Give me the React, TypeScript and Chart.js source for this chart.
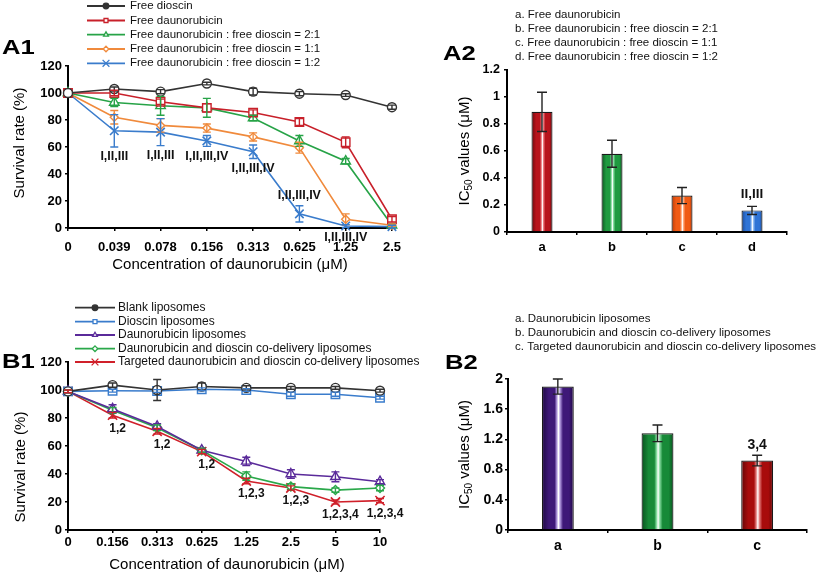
import React, { useEffect, useRef } from 'react';
import { Chart, registerables } from 'chart.js';

Chart.register(...registerables);

const FONT = '"Liberation Sans", Arial, Helvetica, sans-serif';

// ---------------- A1 data ----------------
const a1Concentrations = ['0', '0.039', '0.078', '0.156', '0.313', '0.625', '1.25', '2.5'];
const a1Names = [
  'Free dioscin',
  'Free daunorubicin',
  'Free daunorubicin : free dioscin = 2:1',
  'Free daunorubicin : free dioscin = 1:1',
  'Free daunorubicin : free dioscin = 1:2',
];
const a1FreeDioscin = [100, 103, 101, 107, 101, 99.5, 98.5, 89.5];
const a1FreeDioscinErr = [0, 1.5, 1.5, 1, 2.5, 1.5, 1, 1.5];
const a1FreeDauno = [100, 100, 93.5, 89, 85.5, 78.5, 63.5, 6.5];
const a1FreeDaunoErr = [0, 2, 2, 3, 2, 2.5, 4, 2];
const a1Ratio21 = [100, 93, 90.5, 89, 81.5, 64.5, 49.5, 2];
const a1Ratio21Err = [0, 3, 7, 7, 2, 4, 2, 1];
const a1Ratio11 = [100, 82, 76, 74, 67.5, 59.5, 6.5, 2];
const a1Ratio11Err = [0, 5, 5, 3, 3, 4, 4, 1];
const a1Ratio12 = [100, 72, 71, 64.5, 56.5, 10.5, 1.5, 1];
const a1Ratio12Err = [0, 12, 10, 4, 5, 6, 1, 1];
const a1Significance = ['', 'I,II,III', 'I,II,III', 'I,II,III,IV', 'I,II,III,IV', 'I,II,III,IV', 'I,II,III,IV', ''];

// ---------------- A2 data ----------------
const a2Groups = ['a', 'b', 'c', 'd'];
const a2Ic50 = [0.89, 0.58, 0.27, 0.16];
const a2Ic50Err = [0.145, 0.1, 0.06, 0.03];
const a2Significance = ['', '', '', 'II,III'];
const a2Legend = [
  'a. Free daunorubicin',
  'b. Free daunorubicin : free dioscin = 2:1',
  'c. Free daunorubicin : free dioscin = 1:1',
  'd. Free daunorubicin : free dioscin = 1:2',
];

// ---------------- B1 data ----------------
const b1Concentrations = ['0', '0.156', '0.313', '0.625', '1.25', '2.5', '5', '10'];
const b1Names = [
  'Blank liposomes',
  'Dioscin liposomes',
  'Daunorubicin liposomes',
  'Daunorubicin and dioscin co-delivery liposomes',
  'Targeted daunorubicin and dioscin co-delivery liposomes',
];
const b1Blank = [99, 103.5, 100, 102.5, 101.5, 101.5, 101.5, 99.5];
const b1BlankErr = [1, 1.5, 7.5, 2.5, 1.5, 1, 1, 1];
const b1Dioscin = [99, 99.5, 99.3, 100.5, 100, 97, 97, 94.5];
const b1DioscinErr = [1, 1, 1, 1, 1, 1.5, 1.5, 1];
const b1Dauno = [99, 86.5, 74, 57, 49, 40, 38, 34.5];
const b1DaunoErr = [1, 3, 2, 1.5, 3, 3, 3.5, 1.5];
const b1CoDelivery = [99, 85.5, 73, 57, 38.5, 31, 28.5, 30];
const b1CoDeliveryErr = [1, 2, 2, 1.5, 3, 2, 1.5, 2];
const b1Targeted = [99, 82, 70.5, 56, 35, 30, 20, 21];
const b1TargetedErr = [1, 2, 2, 1.5, 2, 1.5, 1.5, 1.5];
const b1Significance = ['', '1,2', '1,2', '1,2', '1,2,3', '1,2,3', '1,2,3,4', '1,2,3,4'];

// ---------------- B2 data ----------------
const b2Groups = ['a', 'b', 'c'];
const b2Ic50 = [1.9, 1.28, 0.92];
const b2Ic50Err = [0.1, 0.11, 0.07];
const b2Significance = ['', '', '3,4'];
const b2Legend = [
  'a. Daunorubicin liposomes',
  'b. Daunorubicin and dioscin co-delivery liposomes',
  'c. Targeted daunorubicin and dioscin co-delivery liposomes',
];

// ---------------- helpers ----------------
type Part = { t: string; sub?: boolean };

function drawMarker(
  ctx: CanvasRenderingContext2D, style: string, x: number, y: number, r: number,
  fill: string, stroke: string, lw: number,
) {
  ctx.save();
  ctx.lineWidth = lw;
  ctx.strokeStyle = stroke;
  ctx.fillStyle = fill;
  ctx.beginPath();
  if (style === 'circle') {
    ctx.arc(x, y, r, 0, Math.PI * 2);
    ctx.fill();
    ctx.stroke();
  } else if (style === 'rect') {
    const s = r * Math.SQRT1_2;
    ctx.rect(x - s, y - s, 2 * s, 2 * s);
    ctx.fill();
    ctx.stroke();
  } else if (style === 'triangle') {
    ctx.moveTo(x, y - r);
    ctx.lineTo(x + r * 0.866, y + r * 0.5);
    ctx.lineTo(x - r * 0.866, y + r * 0.5);
    ctx.closePath();
    ctx.fill();
    ctx.stroke();
  } else if (style === 'rectRot') {
    ctx.moveTo(x, y - r);
    ctx.lineTo(x + r, y);
    ctx.lineTo(x, y + r);
    ctx.lineTo(x - r, y);
    ctx.closePath();
    ctx.fill();
    ctx.stroke();
  } else if (style === 'crossRot') {
    const s = r * Math.SQRT1_2;
    ctx.moveTo(x - s, y - s);
    ctx.lineTo(x + s, y + s);
    ctx.moveTo(x + s, y - s);
    ctx.lineTo(x - s, y + s);
    ctx.stroke();
  }
  ctx.restore();
}

function drawParts(ctx: CanvasRenderingContext2D, parts: Part[], x: number, y: number, size: number, rotate: boolean) {
  ctx.save();
  ctx.translate(x, y);
  if (rotate) ctx.rotate(-Math.PI / 2);
  ctx.fillStyle = '#000';
  ctx.textBaseline = 'middle';
  ctx.textAlign = 'left';
  const fonts = parts.map((p) => `${p.sub ? Math.round(size * 0.68) : size}px ${FONT}`);
  let total = 0;
  const ws = parts.map((p, i) => {
    ctx.font = fonts[i];
    const w = ctx.measureText(p.t).width;
    total += w;
    return w;
  });
  let cx = -total / 2;
  parts.forEach((p, i) => {
    ctx.font = fonts[i];
    ctx.fillText(p.t, cx, p.sub ? size * 0.3 : 0);
    cx += ws[i];
  });
  ctx.restore();
}

type DecorCfg = {
  panel: { text: string; x: number; y: number };
  lineLegend?: { x1: number; x2: number; tx: number; ys: number[]; size: number; r: number };
  textLegend?: { lines: string[]; x: number; ys: number[]; size: number };
  errors?: { sets: number[][]; color?: string; cap: number };
  notes?: { ds: number; texts: string[]; sides: string[]; errs?: number[]; gap: number; dx: number; size: number };
  yTitle: { parts: Part[]; x: number; y: number; size: number };
  xTitle?: { text: string; x: number; y: number; size: number };
};

function decor(cfg: DecorCfg) {
  return {
    id: 'decor',
    afterDatasetsDraw(chart: any) {
      const ctx: CanvasRenderingContext2D = chart.ctx;
      const ys = chart.scales.y;
      if (cfg.errors) {
        const { sets, color, cap } = cfg.errors;
        sets.forEach((errs, di) => {
          const ds = chart.data.datasets[di];
          const meta = chart.getDatasetMeta(di);
          ctx.save();
          ctx.strokeStyle = color || ds.borderColor;
          ctx.lineWidth = 1.4;
          errs.forEach((e, j) => {
            if (!e) return;
            const v = ds.data[j];
            const x = meta.data[j].x;
            const yT = ys.getPixelForValue(v + e);
            const yB = ys.getPixelForValue(v - e);
            ctx.beginPath();
            ctx.moveTo(x, yT);
            ctx.lineTo(x, yB);
            ctx.moveTo(x - cap, yT);
            ctx.lineTo(x + cap, yT);
            ctx.moveTo(x - cap, yB);
            ctx.lineTo(x + cap, yB);
            ctx.stroke();
          });
          ctx.restore();
        });
      }
      if (cfg.notes) {
        const n = cfg.notes;
        const ds = chart.data.datasets[n.ds];
        const meta = chart.getDatasetMeta(n.ds);
        ctx.save();
        ctx.fillStyle = '#111';
        ctx.font = `bold ${n.size}px ${FONT}`;
        ctx.textAlign = 'center';
        ctx.textBaseline = 'middle';
        n.texts.forEach((t, j) => {
          if (!t) return;
          const v = ds.data[j];
          const e = n.errs ? n.errs[j] : 0;
          const x = meta.data[j].x + n.dx;
          const y = n.sides[j] === 'above'
            ? ys.getPixelForValue(v + e) - n.gap
            : ys.getPixelForValue(v - e) + n.gap;
          ctx.fillText(t, x, y);
        });
        ctx.restore();
      }
    },
    afterDraw(chart: any) {
      const ctx: CanvasRenderingContext2D = chart.ctx;
      // panel label
      ctx.save();
      ctx.fillStyle = '#000';
      ctx.font = `bold 21px ${FONT}`;
      ctx.textBaseline = 'middle';
      ctx.textAlign = 'left';
      ctx.translate(cfg.panel.x, cfg.panel.y);
      ctx.scale(1.22, 1);
      ctx.fillText(cfg.panel.text, 0, 1);
      ctx.restore();
      // line legend
      if (cfg.lineLegend) {
        const L = cfg.lineLegend;
        chart.data.datasets.forEach((ds: any, i: number) => {
          const y = L.ys[i];
          ctx.save();
          ctx.strokeStyle = ds.borderColor;
          ctx.lineWidth = 1.8;
          ctx.beginPath();
          ctx.moveTo(L.x1, y);
          ctx.lineTo(L.x2, y);
          ctx.stroke();
          ctx.restore();
          const r = ds.pointStyle === 'crossRot' ? L.r + 2 : L.r;
          drawMarker(ctx, ds.pointStyle, (L.x1 + L.x2) / 2, y, r,
            i === 0 ? ds.borderColor : '#fff', ds.borderColor, 1.3);
          ctx.save();
          ctx.fillStyle = '#111';
          ctx.font = `${L.size}px ${FONT}`;
          ctx.textBaseline = 'middle';
          ctx.textAlign = 'left';
          ctx.fillText(ds.label, L.tx, y);
          ctx.restore();
        });
      }
      if (cfg.textLegend) {
        const T = cfg.textLegend;
        ctx.save();
        ctx.fillStyle = '#111';
        ctx.font = `${T.size}px ${FONT}`;
        ctx.textBaseline = 'middle';
        ctx.textAlign = 'left';
        T.lines.forEach((s, i) => ctx.fillText(s, T.x, T.ys[i]));
        ctx.restore();
      }
      drawParts(ctx, cfg.yTitle.parts, cfg.yTitle.x, cfg.yTitle.y, cfg.yTitle.size, true);
      if (cfg.xTitle) {
        drawParts(ctx, [{ t: cfg.xTitle.text }], cfg.xTitle.x, cfg.xTitle.y, cfg.xTitle.size, false);
      }
    },
  };
}

function lineDataset(label: string, data: number[], color: string, style: string, radius: number) {
  return {
    label,
    data,
    borderColor: color,
    backgroundColor: color,
    borderWidth: 1.6,
    pointStyle: style,
    pointRadius: radius,
    pointBackgroundColor: style === 'crossRot' ? color : '#fff',
    pointBorderColor: color,
    pointBorderWidth: style === 'crossRot' ? 1.6 : 1.4,
    tension: 0,
    clip: false,
  };
}

const fmtTick = (v: any) => String(Number(Number(v).toFixed(2)));

function axisCommon(tickSize: number, pad: number) {
  return {
    grid: { drawOnChartArea: false, drawTicks: true, tickLength: 3, color: '#000', lineWidth: 1.5 },
    border: { color: '#000', width: 2 },
    ticks: {
      color: '#000', font: { family: FONT, size: tickSize, weight: 'bold' }, padding: pad,
      maxRotation: 0, autoSkip: false,
    },
  };
}

function baseOptions(padding: any) {
  return {
    animation: false,
    responsive: false,
    devicePixelRatio: 1,
    events: [],
    layout: { padding },
    plugins: { legend: { display: false }, tooltip: { enabled: false }, title: { display: false } },
  };
}

type BarColor = [string, string, string];
const a2Colors: BarColor[] = [
  ['#6a080c', '#b8141c', '#ec7a80'],
  ['#0b5520', '#1f9a40', '#86dca0'],
  ['#bb3a06', '#f05a14', '#ffab80'],
  ['#1a4a9a', '#2f74d6', '#94bef2'],
];
const b2Colors: BarColor[] = [
  ['#1e0842', '#3e1878', '#b49ce0'],
  ['#08521e', '#178a38', '#86dca0'],
  ['#620606', '#a80c0c', '#e48080'],
];

function barFill(colors: BarColor[], pct: number) {
  return (c: any) => {
    const idx = c.dataIndex ?? 0;
    const [edge, body, light] = colors[idx % colors.length];
    const chart = c.chart;
    const xs = chart.scales && chart.scales.x;
    if (!xs || !chart.chartArea || c.dataIndex == null) return body;
    const n = chart.data.labels.length;
    const cx = xs.getPixelForValue(idx);
    const w = (xs.width / n) * pct;
    const g = chart.ctx.createLinearGradient(cx - w / 2, 0, cx + w / 2, 0);
    g.addColorStop(0, edge);
    g.addColorStop(0.22, body);
    g.addColorStop(0.4, body);
    g.addColorStop(0.47, light);
    g.addColorStop(0.52, '#ffffff');
    g.addColorStop(0.57, light);
    g.addColorStop(0.66, body);
    g.addColorStop(0.85, body);
    g.addColorStop(1, edge);
    return g;
  };
}

const IC_TITLE: Part[] = [{ t: 'IC' }, { t: '50', sub: true }, { t: ' values (\u03bcM)' }];

function a1Config(): any {
  const ax = axisCommon(13, 3);
  return {
    type: 'line',
    data: {
      labels: a1Concentrations,
      datasets: [
        lineDataset(a1Names[0], a1FreeDioscin, '#333333', 'circle', 4.5),
        lineDataset(a1Names[1], a1FreeDauno, '#c8202a', 'rect', 6),
        lineDataset(a1Names[2], a1Ratio21, '#27a347', 'triangle', 5.5),
        lineDataset(a1Names[3], a1Ratio11, '#f08a3c', 'rectRot', 4),
        lineDataset(a1Names[4], a1Ratio12, '#3a7ccc', 'crossRot', 6),
      ],
    },
    options: {
      ...baseOptions({ top: 66, right: 17, left: 0, bottom: 0 }),
      scales: {
        x: {
          type: 'category', offset: false, ...axisCommon(13, 9),
          afterFit: (s: any) => { s.height = 44; },
        },
        y: {
          min: 0, max: 120, ...ax,
          ticks: { ...ax.ticks, stepSize: 20, callback: fmtTick },
          afterFit: (s: any) => { s.width = 68; },
        },
      },
    },
    plugins: [decor({
      panel: { text: 'A1', x: 2, y: 47.5 },
      lineLegend: { x1: 87, x2: 125, tx: 130, ys: [6, 20.5, 34.7, 49, 63.3], size: 11.5, r: 2.8 },
      errors: { sets: [a1FreeDioscinErr, a1FreeDaunoErr, a1Ratio21Err, a1Ratio11Err, a1Ratio12Err], cap: 4 },
      notes: {
        ds: 4, texts: a1Significance, errs: a1Ratio12Err,
        sides: ['below', 'below', 'below', 'below', 'below', 'above', 'below', 'below'],
        gap: 10, dx: 0, size: 12.5,
      },
      yTitle: { parts: [{ t: 'Survival rate (%)' }], x: 20, y: 143, size: 15 },
      xTitle: { text: 'Concentration of daunorubicin (\u03bcM)', x: 230, y: 265, size: 15 },
    })],
  };
}

function a2Config(): any {
  const ax = axisCommon(12.5, 4);
  return {
    type: 'bar',
    data: {
      labels: a2Groups,
      datasets: [{
        data: a2Ic50,
        backgroundColor: barFill(a2Colors, 0.3),
        borderColor: '#1a1a1a',
        borderWidth: 1.2,
        barPercentage: 0.3,
        categoryPercentage: 1,
      }],
    },
    options: {
      ...baseOptions({ top: 70, right: 33, left: 0, bottom: 0 }),
      scales: {
        x: {
          ...axisCommon(13, 5),
          grid: { ...ax.grid, offset: true },
          afterFit: (s: any) => { s.height = 40; },
        },
        y: {
          min: 0, max: 1.2, ...ax,
          ticks: { ...ax.ticks, stepSize: 0.2, callback: fmtTick },
          afterFit: (s: any) => { s.width = 97; },
        },
      },
    },
    plugins: [decor({
      panel: { text: 'A2', x: 33, y: 53 },
      textLegend: { lines: a2Legend, x: 105, ys: [15, 29.3, 43.3, 57.3], size: 11.5 },
      errors: { sets: [a2Ic50Err], color: '#222', cap: 5 },
      notes: { ds: 0, texts: a2Significance, errs: a2Ic50Err, sides: ['above', 'above', 'above', 'above'], gap: 12, dx: 0, size: 13.5 },
      yTitle: { parts: IC_TITLE, x: 55, y: 151, size: 15 },
    })],
  };
}

function b1Config(): any {
  const ax = axisCommon(13, 3);
  return {
    type: 'line',
    data: {
      labels: b1Concentrations,
      datasets: [
        lineDataset(b1Names[0], b1Blank, '#333333', 'circle', 4.5),
        lineDataset(b1Names[1], b1Dioscin, '#3a7ccc', 'rect', 6),
        lineDataset(b1Names[2], b1Dauno, '#5a2a9a', 'triangle', 5.5),
        lineDataset(b1Names[3], b1CoDelivery, '#2aa84a', 'rectRot', 4.5),
        lineDataset(b1Names[4], b1Targeted, '#d0202a', 'crossRot', 6.5),
      ],
    },
    options: {
      ...baseOptions({ top: 90, right: 50, left: 0, bottom: 0 }),
      scales: {
        x: {
          type: 'category', offset: false, ...axisCommon(13, 2),
          afterFit: (s: any) => { s.height = 46; },
        },
        y: {
          min: 0, max: 120, ...ax,
          ticks: { ...ax.ticks, stepSize: 20, callback: fmtTick },
          afterFit: (s: any) => { s.width = 68; },
        },
      },
    },
    plugins: [decor({
      panel: { text: 'B1', x: 2, y: 89.7 },
      lineLegend: { x1: 75, x2: 115, tx: 118, ys: [35.7, 49.7, 63, 76.7, 90], size: 12, r: 2.8 },
      errors: { sets: [b1BlankErr, b1DioscinErr, b1DaunoErr, b1CoDeliveryErr, b1TargetedErr], cap: 4 },
      notes: {
        ds: 4, texts: b1Significance,
        sides: ['below', 'below', 'below', 'below', 'below', 'below', 'below', 'below'],
        gap: 13, dx: 5, size: 12,
      },
      yTitle: { parts: [{ t: 'Survival rate (%)' }], x: 21, y: 195, size: 15 },
      xTitle: { text: 'Concentration of daunorubicin (\u03bcM)', x: 227, y: 293, size: 15 },
    })],
  };
}

function b2Config(): any {
  const ax = axisCommon(14, 2);
  return {
    type: 'bar',
    data: {
      labels: b2Groups,
      datasets: [{
        data: b2Ic50,
        backgroundColor: barFill(b2Colors, 0.32),
        borderColor: '#1a1a1a',
        borderWidth: 1.2,
        barPercentage: 0.32,
        categoryPercentage: 1,
      }],
    },
    options: {
      ...baseOptions({ top: 107, right: 13, left: 0, bottom: 0 }),
      scales: {
        x: {
          ...axisCommon(14, 5),
          grid: { ...ax.grid, offset: true },
          afterFit: (s: any) => { s.height = 46; },
        },
        y: {
          min: 0, max: 2, ...ax,
          ticks: { ...ax.ticks, stepSize: 0.4, callback: fmtTick },
          afterFit: (s: any) => { s.width = 98; },
        },
      },
    },
    plugins: [decor({
      panel: { text: 'B2', x: 35, y: 90.5 },
      textLegend: { lines: b2Legend, x: 105, ys: [47.3, 60.7, 74.7], size: 11.5 },
      errors: { sets: [b2Ic50Err], color: '#222', cap: 5 },
      notes: { ds: 0, texts: b2Significance, errs: b2Ic50Err, sides: ['above', 'above', 'above'], gap: 10, dx: 0, size: 14 },
      yTitle: { parts: IC_TITLE, x: 55, y: 182.5, size: 15 },
    })],
  };
}

export default function App() {
  const ra1 = useRef<HTMLCanvasElement>(null);
  const ra2 = useRef<HTMLCanvasElement>(null);
  const rb1 = useRef<HTMLCanvasElement>(null);
  const rb2 = useRef<HTMLCanvasElement>(null);

  useEffect(() => {
    const charts = [
      new Chart(ra1.current as HTMLCanvasElement, a1Config()),
      new Chart(ra2.current as HTMLCanvasElement, a2Config()),
      new Chart(rb1.current as HTMLCanvasElement, b1Config()),
      new Chart(rb2.current as HTMLCanvasElement, b2Config()),
    ];
    return () => charts.forEach((c) => c.destroy());
  }, []);

  const abs = (left: number, top: number, w: number, h: number): React.CSSProperties => ({
    position: 'absolute', left, top, width: w, height: h, display: 'block',
  });

  return (
    <div style={{ position: 'absolute', left: 0, top: 0, width: 820, height: 576, background: '#fff', overflow: 'hidden' }}>
      <canvas ref={ra1} width={410} height={272} style={abs(0, 0, 410, 272)} />
      <canvas ref={ra2} width={410} height={272} style={abs(410, 0, 410, 272)} />
      <canvas ref={rb1} width={430} height={304} style={abs(0, 272, 430, 304)} />
      <canvas ref={rb2} width={410} height={304} style={abs(410, 272, 410, 304)} />
    </div>
  );
}
